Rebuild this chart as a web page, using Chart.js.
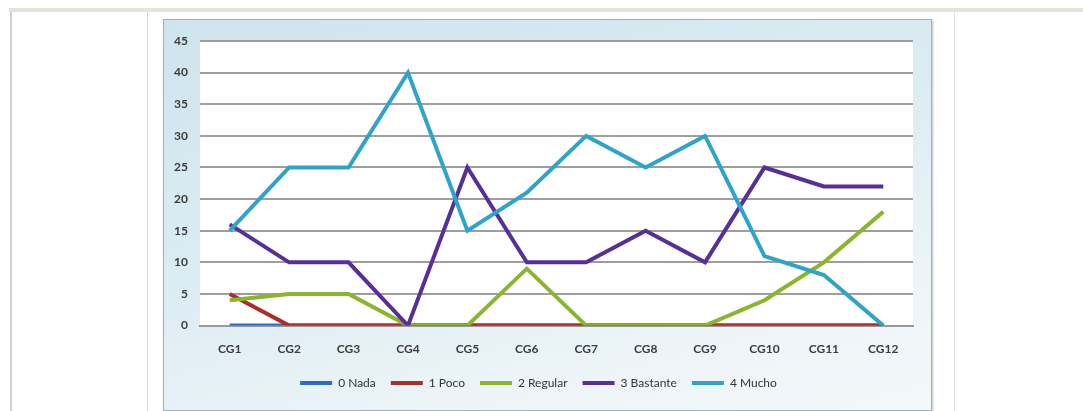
<!DOCTYPE html>
<html>
<head>
<meta charset="utf-8">
<script src="https://cdn.jsdelivr.net/npm/chart.js@4"></script>
<style>
  body { margin: 0; background: #fff; width: 1083px; height: 411px; position: relative; overflow: hidden; }
  .topbar { position: absolute; left: 9px; top: 8px; width: 1074px; height: 4px; background: #e6e4d8; }
  .vline { position: absolute; top: 12px; bottom: 0; width: 1px; }
  #box {
    position: absolute; left: 163px; top: 19px; width: 767px; height: 390px;
    border: 1px solid #a4b0b6;
    box-shadow: 1px 1px 2px rgba(0,0,0,0.25);
    background: linear-gradient(165deg, #cfe4ee 0%, #dcecf3 45%, #eef5f8 80%, #f3f8fa 100%);
  }
</style>
</head>
<body>
<div class="topbar"></div>
<div class="vline" style="left:10px;width:2px;background:#cfcfcf"></div>
<div class="vline" style="left:147px;background:#d6d6d6"></div>
<div class="vline" style="left:954px;background:#e2e2e2"></div>
<div id="box"><canvas id="lineChart"></canvas></div>
<script>
// categories and series
const categories = ["CG1", "CG2", "CG3", "CG4", "CG5", "CG6", "CG7", "CG8", "CG9", "CG10", "CG11", "CG12"];
const nada     = [0, 0, 0, 0, 0, 0, 0, 0, 0, 0, 0, 0];
const poco     = [5, 0, 0, 0, 0, 0, 0, 0, 0, 0, 0, 0];
const regular  = [4, 5, 5, 0, 0, 9, 0, 0, 0, 4, 10, 18];
const bastante = [16, 10, 10, 0, 25, 10, 10, 15, 10, 25, 22, 22];
const mucho    = [15, 25, 25, 40, 15, 21, 30, 25, 30, 11, 8, 0];
const seriesNames = ["0 Nada", "1 Poco", "2 Regular", "3 Bastante", "4 Mucho"];
const seriesColors = ["#2f6cc4", "#ad2c2c", "#8ab52c", "#56309a", "#2fa3c9"];

const seriesData = [nada, poco, regular, bastante, mucho];

// white plot area on the blue box
const plotBg = {
  id: "plotBg",
  beforeDraw(chart) {
    const a = chart.chartArea;
    chart.ctx.save();
    chart.ctx.fillStyle = "#ffffff";
    chart.ctx.fillRect(a.left, a.top, a.right - a.left, a.bottom - a.top);
    chart.ctx.restore();
  }
};

const tickFont = { family: "Lato", size: 12, weight: "bold" };

const ctx = document.getElementById("lineChart").getContext("2d");
new Chart(ctx, {
  type: "line",
  data: {
    labels: categories,
    datasets: seriesData.map((d, i) => ({
      label: seriesNames[i],
      data: d,
      borderColor: seriesColors[i],
      backgroundColor: seriesColors[i],
      borderWidth: 4,
      pointRadius: 0,
      tension: 0,
      order: 4 - i // later series on top
    }))
  },
  options: {
    responsive: true,
    maintainAspectRatio: false,
    animation: false,
    layout: { padding: { left: 0, right: 18, top: 21, bottom: 11 } },
    plugins: {
      legend: {
        position: "bottom",
        labels: {
          boxWidth: 32,
          boxHeight: 4,
          padding: 15,
          color: "#333",
          font: { family: "Lato", size: 12 },
          sort: (a, b) => a.datasetIndex - b.datasetIndex,
          generateLabels: chart => Chart.defaults.plugins.legend.labels.generateLabels(chart)
            .map(l => Object.assign(l, { lineWidth: 0 }))
        }
      },
      tooltip: { enabled: false }
    },
    scales: {
      x: {
        offset: true,
        grid: { display: false, drawTicks: false },
        border: { color: "#9a9a9a", width: 2 },
        ticks: { color: "#3c3c3c", padding: 16, font: tickFont },
        // legend padding is wider for spacing between items, pull it back up
        afterFit: s => { s.height -= 10; }
      },
      y: {
        min: 0,
        max: 45,
        ticks: { stepSize: 5, color: "#3c3c3c", padding: 12, font: tickFont },
        grid: { color: "#9e9e9e", lineWidth: 2, drawTicks: false },
        border: { display: false },
        afterFit: s => { s.width = 36; }
      }
    }
  },
  plugins: [plotBg]
});
</script>
</body>
</html>
